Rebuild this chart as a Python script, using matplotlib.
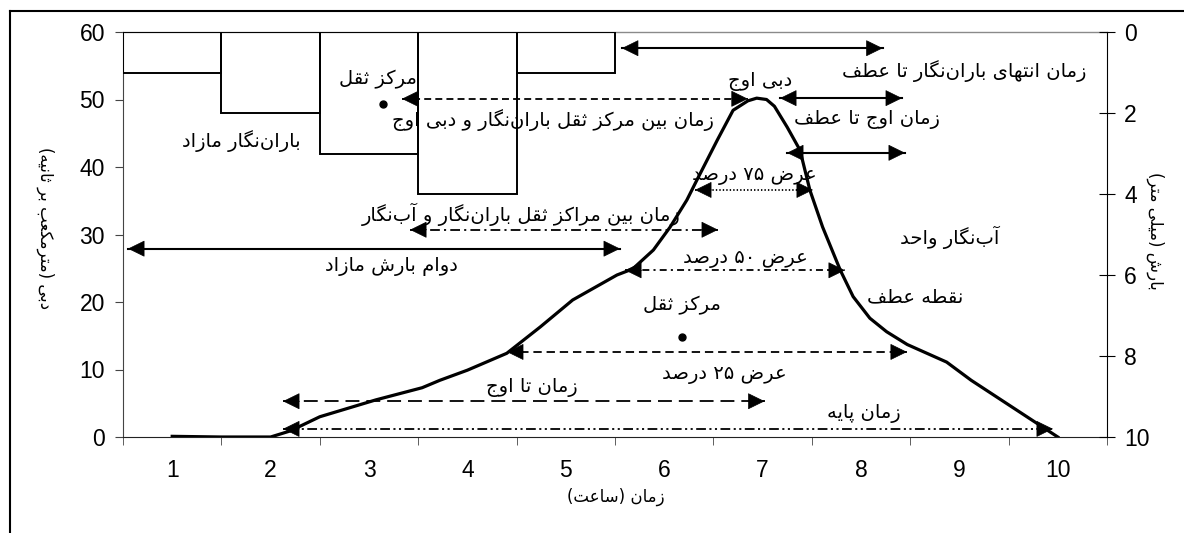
import re
import matplotlib
matplotlib.use("Agg")
import matplotlib.pyplot as plt
from matplotlib.lines import Line2D

plt.rcParams['lines.scale_dashes'] = False

# ---------------- data ----------------
hours = [1, 2, 3, 4, 5, 6, 7, 8, 9, 10]
rain_hours = [1, 2, 3, 4, 5]
rain_mm = [1.0, 2.0, 3.0, 4.0, 1.0]
hydro_t = [1.0, 1.5, 2.0, 2.2, 2.5, 3.07, 3.54, 3.72, 4.0, 4.4, 4.74, 5.07, 5.52, 5.68,
           5.89, 6.06, 6.23, 6.33, 6.54, 6.70, 6.85, 6.94, 7.04, 7.12, 7.25, 7.38, 7.48,
           7.61, 7.79, 7.92, 8.09, 8.26, 8.47, 8.87, 9.12, 10.0]
hydro_q = [0.1, 0.0, 0.0, 0.9, 3.0, 5.5, 7.3, 8.4, 9.9, 12.4, 16.3, 20.3, 24.0, 24.9,
           27.7, 31.1, 35.1, 38.0, 44.0, 48.4, 49.8, 50.2, 50.0, 49.0, 45.9, 42.5, 36.6,
           31.1, 24.7, 20.8, 17.6, 15.6, 13.7, 11.1, 8.4, 0.0]
centroid_rain = (3.14, 49.3)
centroid_hydro = (6.18, 14.8)
q_ticks = [0, 10, 20, 30, 40, 50, 60]
p_ticks = [0, 2, 4, 6, 8, 10]

# ---------------- minimal Persian shaping ----------------
FORMS = {
    '\u0627': ('\uFE8D', '\uFE8E', None, None),
    '\u0622': ('\uFE81', '\uFE82', None, None),
    '\u0628': ('\uFE8F', '\uFE90', '\uFE91', '\uFE92'),
    '\u067E': ('\uFB56', '\uFB57', '\uFB58', '\uFB59'),
    '\u062A': ('\uFE95', '\uFE96', '\uFE97', '\uFE98'),
    '\u062B': ('\uFE99', '\uFE9A', '\uFE9B', '\uFE9C'),
    '\u062C': ('\uFE9D', '\uFE9E', '\uFE9F', '\uFEA0'),
    '\u062D': ('\uFEA1', '\uFEA2', '\uFEA3', '\uFEA4'),
    '\u062F': ('\uFEA9', '\uFEAA', None, None),
    '\u0631': ('\uFEAD', '\uFEAE', None, None),
    '\u0632': ('\uFEAF', '\uFEB0', None, None),
    '\u0633': ('\uFEB1', '\uFEB2', '\uFEB3', '\uFEB4'),
    '\u0634': ('\uFEB5', '\uFEB6', '\uFEB7', '\uFEB8'),
    '\u0635': ('\uFEB9', '\uFEBA', '\uFEBB', '\uFEBC'),
    '\u0636': ('\uFEBD', '\uFEBE', '\uFEBF', '\uFEC0'),
    '\u0637': ('\uFEC1', '\uFEC2', '\uFEC3', '\uFEC4'),
    '\u0639': ('\uFEC9', '\uFECA', '\uFECB', '\uFECC'),
    '\u0641': ('\uFED1', '\uFED2', '\uFED3', '\uFED4'),
    '\u0642': ('\uFED5', '\uFED6', '\uFED7', '\uFED8'),
    '\u06A9': ('\uFB8E', '\uFB8F', '\uFB90', '\uFB91'),
    '\u06AF': ('\uFB92', '\uFB93', '\uFB94', '\uFB95'),
    '\u0644': ('\uFEDD', '\uFEDE', '\uFEDF', '\uFEE0'),
    '\u0645': ('\uFEE1', '\uFEE2', '\uFEE3', '\uFEE4'),
    '\u0646': ('\uFEE5', '\uFEE6', '\uFEE7', '\uFEE8'),
    '\u0648': ('\uFEED', '\uFEEE', None, None),
    '\u0647': ('\uFEE9', '\uFEEA', '\uFEEB', '\uFEEC'),
    '\u06CC': ('\uFBFC', '\uFBFD', '\uFBFE', '\uFBFF'),
}


def fa(s):
    out = []
    for i, c in enumerate(s):
        if c not in FORMS:
            out.append(c)
            continue
        prev = s[i - 1] if i > 0 else ''
        nxt = s[i + 1] if i + 1 < len(s) else ''
        jp = prev in FORMS and FORMS[prev][2] is not None
        jn = nxt in FORMS and FORMS[c][2] is not None
        iso, fin, ini, med = FORMS[c]
        out.append(med if (jp and jn) else fin if jp else ini if jn else iso)
    vis = ''.join(out).replace('\u200c', '')
    toks = re.findall(r'[0-9\u06F0-\u06F9]+|.', vis)
    res = ''.join(reversed(toks))
    return res.translate(str.maketrans('()', ')('))


FA = ['DejaVu Sans']
NUM = ['Liberation Sans', 'DejaVu Sans']
TICK_FS = 16.5

# ---------------- figure ----------------
fig = plt.figure(figsize=(11.84, 5.33), dpi=100)
W, H = 1184, 533
ax = fig.add_axes([123 / W, 1 - 437 / H, (1107 - 123) / W, (437 - 32) / H])
ax2 = ax.twinx()

# outer frame (partially outside the image)
fig.add_artist(Line2D([10 / W, 10 / W], [1 - 11 / H, -0.1], color='black', lw=1.5,
                      transform=fig.transFigure))
fig.add_artist(Line2D([10 / W, 1.1], [1 - 11 / H, 1 - 11 / H], color='black', lw=1.5,
                      transform=fig.transFigure))

ax.set_xlim(0.5, 10.5)
ax.set_ylim(0, 60)
ax2.set_ylim(10, 0)

# spines
ax.spines['top'].set_color('#8a8a8a')
ax.spines['top'].set_linewidth(1.0)
ax.spines['left'].set_color('#444444')
ax.spines['bottom'].set_color('#222222')
ax.spines['right'].set_visible(False)
for s in ['top', 'left', 'bottom']:
    ax2.spines[s].set_visible(False)
ax2.spines['right'].set_color('black')

# ticks
ax.set_xticks(hours)
ax.set_xticklabels([str(h) for h in hours], family=NUM, fontsize=TICK_FS)
ax.set_xticks([h + 0.5 for h in [0] + hours], minor=True)
ax.tick_params(axis='x', which='major', length=0, pad=16)
ax.tick_params(axis='x', which='minor', length=6, direction='out', color='#444444')
ax.set_yticks(q_ticks)
ax.set_yticklabels([str(v) for v in q_ticks], family=NUM, fontsize=TICK_FS)
ax.tick_params(axis='y', length=6, pad=7, color='#444444')
ax2.set_yticks(p_ticks)
ax2.set_yticklabels([str(v) for v in p_ticks], family=NUM, fontsize=TICK_FS)
ax2.tick_params(axis='y', direction='inout', length=11, pad=7)

# rainfall excess bars (hanging from top)
ax2.bar(rain_hours, rain_mm, width=1.0, bottom=0, fill=False, edgecolor='black', lw=1.4,
        zorder=2)

# hydrograph
ax.plot(hydro_t, hydro_q, color='black', lw=2.3, zorder=4, solid_joinstyle='round')

# centroids
ax.plot(*centroid_rain, 'o', color='black', ms=5, zorder=5)
ax.plot(*centroid_hydro, 'o', color='black', ms=5, zorder=5)

HEAD = dict(arrowstyle='-|>,head_length=0.55,head_width=0.27', mutation_scale=20,
            color='black', lw=0.5, shrinkA=0, shrinkB=0)


def arrow(x0, x1, y, ls, lw=1.3):
    ax.plot([x0, x1], [y, y], color='black', lw=lw, linestyle=ls, zorder=3,
            dash_capstyle='butt')
    for tip, sign in ((x0, 1), (x1, -1)):
        ax.annotate('', xy=(tip, y), xytext=(sign * 12, 0), textcoords='offset points',
                    arrowprops=HEAD, zorder=5)


arrow(5.57, 8.22, 57.6, '-', 1.5)
arrow(3.335, 6.85, 50.1, (0, (5, 3)))
arrow(7.177, 8.417, 50.2, '-', 1.5)
arrow(7.248, 8.447, 42.1, '-', 1.5)
arrow(6.313, 7.512, 36.6, (0, (1, 1.5)))
arrow(3.417, 6.547, 30.7, (0, (7, 3, 1.5, 3)))
arrow(0.551, 5.551, 27.9, '-', 1.5)
arrow(5.602, 7.837, 24.7, (0, (5, 3, 1.5, 3)))
arrow(4.402, 8.467, 12.6, (0, (6, 3.5)))
arrow(2.126, 7.02, 5.3, (0, (10, 5)))
arrow(2.126, 9.951, 1.2, (0, (7, 2.5, 1.5, 2.5, 1.5, 2.5)))

FS = 14


def label(x, y, s, fs=FS, **kw):
    ax.text(x, y, fa(s), ha='center', va='center', fontsize=fs, family=FA, zorder=6, **kw)


label(9.05, 54.2, 'زمان انتهای باران\u200cنگار تا عطف')
label(6.97, 52.7, 'دبی اوج')
label(3.09, 53.0, 'مرکز ثقل')
label(1.70, 43.9, 'باران\u200cنگار مازاد')
label(4.87, 47.0, 'زمان بین مرکز ثقل باران\u200cنگار و دبی اوج')
label(8.06, 47.0, 'زمان اوج تا عطف')
label(6.92, 38.7, 'عرض ۷۵ درصد')
label(4.55, 33.0, 'زمان بین مراکز ثقل باران\u200cنگار و آب\u200cنگار')
label(3.23, 25.2, 'دوام بارش مازاد')
label(8.90, 29.6, 'آب\u200cنگار واحد')
label(6.83, 26.5, 'عرض ۵۰ درصد')
label(6.18, 19.5, 'مرکز ثقل')
label(8.55, 20.7, 'نقطه عطف')
label(6.61, 9.3, 'عرض ۲۵ درصد')
label(4.65, 7.3, 'زمان تا اوج')
label(8.03, 3.5, 'زمان پایه')

# axis titles
fig.text(616 / W, 1 - 497 / H, fa('زمان (ساعت)'), ha='center', va='center', fontsize=12,
         family=FA)
fig.text(45 / W, 1 - 228 / H, fa('دبی (مترمکعب بر ثانیه)'), ha='center', va='center',
         fontsize=12, family=FA, rotation=-90)
fig.text(1155 / W, 1 - 231 / H, fa('بارش (میلی متر)'), ha='center', va='center',
         fontsize=12, family=FA, rotation=-90)

fig.savefig('out.png', dpi=100, facecolor='white')
